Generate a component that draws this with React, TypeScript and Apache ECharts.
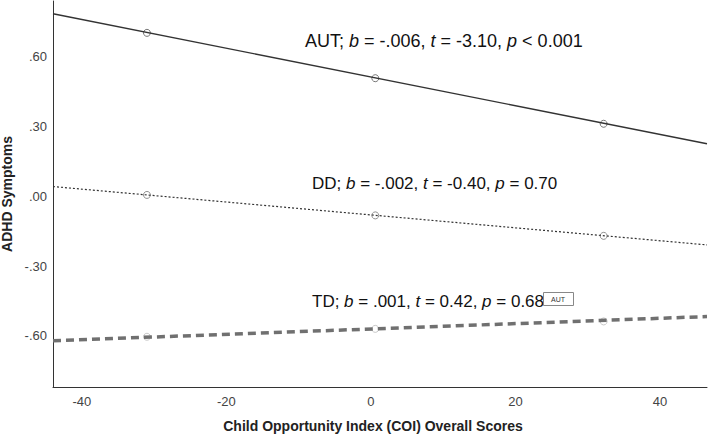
import React, { useEffect, useRef } from "react";
import * as echarts from "echarts";

const xRange = [-44, 46.5];
const markerX = [-31, 0.6, 32.2];
const xTicks = [-40, -20, 0, 20, 40];
const yTicks = [-0.6, -0.3, 0, 0.3, 0.6];

const autLine = [0.785, 0.226];
const autPoints = [0.703, 0.508, 0.312];
const ddLine = [0.042, -0.209];
const ddPoints = [0.006, -0.082, -0.17];
const tdLine = [-0.621, -0.517];
const tdPoints = [-0.604, -0.57, -0.538];

const FONT = "'Liberation Sans', Arial, sans-serif";
const TXT = 17;
const TXT_AUT = 18;

const linePairs = (vals: number[]) => xRange.map((x, i) => [x, vals[i]]);
const pts = (vals: number[]) => markerX.map((x, i) => [x, vals[i]]);

export default function App() {
  const ref = useRef<HTMLDivElement>(null);
  useEffect(() => {
    if (!ref.current) return;
    const chart = echarts.init(ref.current, undefined, { renderer: "svg" });
    const fmtY = (v: number) => {
      const s = Math.abs(v).toFixed(2).replace(/^0/, "");
      return v < -1e-9 ? "-" + s : s;
    };
    const rich = { i: { fontStyle: "italic", fontSize: TXT, fontFamily: FONT, fill: "#111" } };
    const richAut = { i: { fontStyle: "italic", fontSize: TXT_AUT, fontFamily: FONT, fill: "#111" } };
    chart.setOption({
      animation: false,
      backgroundColor: "#fff",
      grid: { left: 53, right: 2, top: 1, bottom: 51, containLabel: false, outerBoundsMode: "none" },
      xAxis: {
        type: "value",
        min: xRange[0],
        max: xRange[1],
        name: "Child Opportunity Index (COI) Overall Scores",
        nameLocation: "middle",
        nameGap: 32,
        nameTextStyle: { fontFamily: FONT, fontWeight: "bold", fontSize: 14, color: "#222", padding: [0, 14, 0, 0] },
        axisLine: { show: true, onZero: false, lineStyle: { color: "#333", width: 1 } },
        axisTick: { show: false },
        splitLine: { show: false },
        axisLabel: { customValues: xTicks, fontFamily: FONT, fontSize: 13, color: "#444", margin: 8 },
      },
      yAxis: {
        type: "value",
        min: -0.82,
        max: 0.84,
        name: "ADHD Symptoms",
        nameLocation: "middle",
        nameRotate: 90,
        nameGap: 39,
        nameTextStyle: { fontFamily: FONT, fontWeight: "bold", fontSize: 14, color: "#222" },
        axisLine: { show: true, onZero: false, lineStyle: { color: "#333", width: 1 } },
        axisTick: { show: false },
        splitLine: { show: false },
        axisLabel: { customValues: yTicks, formatter: fmtY, fontFamily: FONT, fontSize: 13, color: "#444", margin: 6 },
      },
      series: [
        {
          type: "line",
          data: linePairs(autLine),
          showSymbol: false,
          lineStyle: { color: "#333", width: 1.4 },
        },
        {
          type: "scatter",
          data: pts(autPoints),
          symbol: "circle",
          symbolSize: 7,
          itemStyle: { color: "rgba(255,255,255,0)", borderColor: "#555", borderWidth: 1 },
        },
        {
          type: "line",
          data: linePairs(ddLine),
          showSymbol: false,
          lineStyle: { color: "#333", width: 1.2, type: [2, 2] },
        },
        {
          type: "scatter",
          data: pts(ddPoints),
          symbol: "circle",
          symbolSize: 7,
          itemStyle: { color: "rgba(255,255,255,0)", borderColor: "#777", borderWidth: 1 },
        },
        {
          type: "line",
          data: linePairs(tdLine),
          showSymbol: false,
          lineStyle: { color: "#707070", width: 3.5, type: [8, 5] },
        },
        {
          type: "scatter",
          data: pts(tdPoints),
          symbol: "circle",
          symbolSize: 7,
          itemStyle: { color: "rgba(255,255,255,0)", borderColor: "#bbb", borderWidth: 1 },
        },
      ],
      graphic: [
        {
          type: "text",
          left: 305,
          top: 32,
          style: {
            text: "AUT; {i|b} = -.006, {i|t} = -3.10, {i|p} < 0.001",
            rich: richAut,
            font: `${TXT_AUT}px ${FONT}`,
            fill: "#111",
          },
        },
        {
          type: "text",
          left: 312,
          top: 175,
          style: {
            text: "DD; {i|b} = -.002, {i|t} = -0.40, {i|p} = 0.70",
            rich,
            font: `${TXT}px ${FONT}`,
            fill: "#111",
          },
        },
        {
          type: "text",
          left: 312,
          top: 293,
          style: {
            text: "TD; {i|b} = .001, {i|t} = 0.42, {i|p} = 0.68",
            rich,
            font: `${TXT}px ${FONT}`,
            fill: "#111",
          },
        },
        {
          type: "rect",
          left: 543,
          top: 292,
          shape: { width: 30, height: 13 },
          style: { fill: "#fff", stroke: "#888", lineWidth: 1 },
        },
        {
          type: "text",
          left: 551,
          top: 296,
          style: { text: "AUT", font: `7px ${FONT}`, fill: "#333" },
        },
      ],
    });
    return () => chart.dispose();
  }, []);
  return (
    <div
      ref={ref}
      style={{ position: "fixed", left: 0, top: 0, width: 709, height: 438, background: "#fff" }}
    />
  );
}
